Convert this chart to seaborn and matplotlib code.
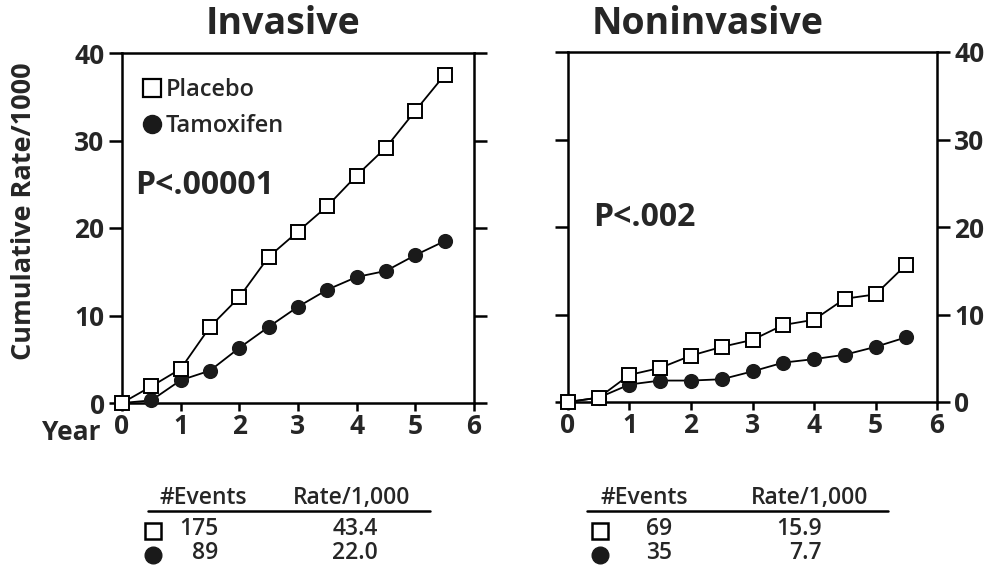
import matplotlib
matplotlib.use("Agg")
import matplotlib.pyplot as plt
import seaborn as sns
import numpy as np
from matplotlib.lines import Line2D

years = [0, 0.5, 1, 1.5, 2, 2.5, 3, 3.5, 4, 4.5, 5, 5.5]
inv_placebo = [0, 1.9, 3.9, 8.7, 12.1, 16.7, 19.6, 22.5, 26.0, 29.2, 33.4, 37.5]
inv_tamox = [0, 0.3, 2.6, 3.7, 6.3, 8.7, 11.0, 12.95, 14.4, 15.1, 16.9, 18.5]
non_placebo = [0, 0.5, 3.1, 3.9, 5.3, 6.3, 7.1, 8.8, 9.4, 11.8, 12.3, 15.7]
non_tamox = [0, 0.5, 2.0, 2.45, 2.45, 2.6, 3.5, 4.5, 4.9, 5.4, 6.3, 7.4]

x_ticks = [0, 1, 2, 3, 4, 5, 6]
y_ticks = [0, 10, 20, 30, 40]
titles = ["Invasive", "Noninvasive"]
p_values = ["P<.00001", "P<.002"]
series_names = ["Placebo", "Tamoxifen"]
events = [["175", "89"], ["69", "35"]]
rates = [["43.4", "22.0"], ["15.9", "7.7"]]

sns.set_style("ticks")
plt.rcParams['font.family'] = ['Open Sans', 'DejaVu Sans']

fig = plt.figure(figsize=(9.87, 5.68), dpi=100)
W, H = 987, 568

def fx(px):
    return px / W

def fy(py):
    return 1 - py / H

L1, R1, B1, T1 = 122, 474, 403, 53
L2, R2, B2, T2 = 568, 937, 402, 52
ax1 = fig.add_axes([fx(L1), fy(B1), fx(R1 - L1), (B1 - T1) / H])
ax2 = fig.add_axes([fx(L2), fy(B2), fx(R2 - L2), (B2 - T2) / H])

data = [(inv_placebo, inv_tamox), (non_placebo, non_tamox)]
mk = dict(markersize=9.5, markeredgewidth=1.4, linewidth=1.3, clip_on=False, zorder=5)
for ax, (pl, tm) in zip([ax1, ax2], data):
    sns.lineplot(x=years, y=tm, ax=ax, color="black", marker="o",
                 markerfacecolor="#1a1a1a", markeredgecolor="#1a1a1a", **mk)
    sns.lineplot(x=years, y=pl, ax=ax, color="black", marker="s",
                 markerfacecolor="white", markeredgecolor="black", **mk)
    ax.set_xlim(0, 6)
    ax.set_ylim(0, 40)
    ax.set_xticks(x_ticks)
    ax.set_yticks(y_ticks)
    ax.set_xticklabels([str(t) for t in x_ticks], fontsize=19, fontweight="bold")
    for s in ax.spines.values():
        s.set_visible(True)
        s.set_linewidth(1.8)
        s.set_color("black")
    ax.tick_params(axis="y", direction="out", length=9.5, width=1.8,
                   color="black", pad=3)
    ax.tick_params(axis="x", direction="out", length=6, width=1.8,
                   color="black", pad=1)
    ax.yaxis.set_ticks_position("both")
    ax.set_xlabel("")
    ax.set_ylabel("")

ax1.tick_params(axis="y", labelleft=True, labelright=False)
ax1.set_yticklabels([str(t) for t in y_ticks], fontsize=19, fontweight="bold")
ax2.tick_params(axis="y", labelleft=False, labelright=True)
ax2.set_yticklabels([str(t) for t in y_ticks], fontsize=19, fontweight="bold")

ax1.set_ylabel("Cumulative Rate/1000", fontsize=19.5, fontweight="bold")
ax1.yaxis.set_label_coords((37 - L1) / (R1 - L1), 0.549)

# titles
fig.text(fx(283), fy(24), titles[0], ha="center", va="center",
         fontsize=27, fontweight="bold")
fig.text(fx(708), fy(24), titles[1], ha="center", va="center",
         fontsize=27, fontweight="bold")
fig.text(fx(101), fy(432), "Year", ha="right", va="center",
         fontsize=19, fontweight="bold")

# p-values
ax1.text((135 - L1) / (R1 - L1), (B1 - 185) / (B1 - T1), p_values[0],
         transform=ax1.transAxes, fontsize=23, fontweight="bold",
         va="center", ha="left")
ax2.text((593 - L2) / (R2 - L2), (B2 - 218) / (B2 - T2), p_values[1],
         transform=ax2.transAxes, fontsize=23, fontweight="bold",
         va="center", ha="left")

# legend
handles = [Line2D([], [], linestyle="none", marker="s", markersize=13,
                  markerfacecolor="white", markeredgecolor="black", markeredgewidth=1.6),
           Line2D([], [], linestyle="none", marker="o", markersize=13,
                  markerfacecolor="#1a1a1a", markeredgecolor="#1a1a1a")]
ax1.legend(handles, series_names, loc="upper left", frameon=False,
           prop={"size": 17, "weight": "semibold"}, handletextpad=0.05,
           handlelength=1.1, borderaxespad=0.3, labelspacing=0.5,
           bbox_to_anchor=(0.0, 0.975))

# tables
tables = [
    dict(hdr_ev=203, hdr_rate=352, line=(148, 430), mark=153, ev_r=218, rate_r=378),
    dict(hdr_ev=644, hdr_rate=810, line=(587, 888), mark=600, ev_r=672, rate_r=822),
]
tf = dict(fontsize=16.5, fontweight="semibold")
for i, t in enumerate(tables):
    fig.text(fx(t["hdr_ev"]), fy(498), "#Events", ha="center", va="center", **tf)
    fig.text(fx(t["hdr_rate"]), fy(498), "Rate/1,000", ha="center", va="center", **tf)
    fig.add_artist(Line2D([fx(t["line"][0]), fx(t["line"][1])], [fy(511), fy(511)],
                          color="black", linewidth=1.8))
    fig.add_artist(Line2D([fx(t["mark"])], [fy(531)], marker="s", markersize=11.5,
                          markerfacecolor="white", markeredgecolor="black",
                          markeredgewidth=1.8, linestyle="none"))
    fig.add_artist(Line2D([fx(t["mark"])], [fy(555)], marker="o", markersize=12,
                          markerfacecolor="#1a1a1a", markeredgecolor="#1a1a1a",
                          linestyle="none"))
    for r, yy in enumerate([529, 553]):
        fig.text(fx(t["ev_r"]), fy(yy), events[i][r], ha="right", va="center", **tf)
        fig.text(fx(t["rate_r"]), fy(yy), rates[i][r], ha="right", va="center", **tf)

fig.savefig("out.png", dpi=100)
